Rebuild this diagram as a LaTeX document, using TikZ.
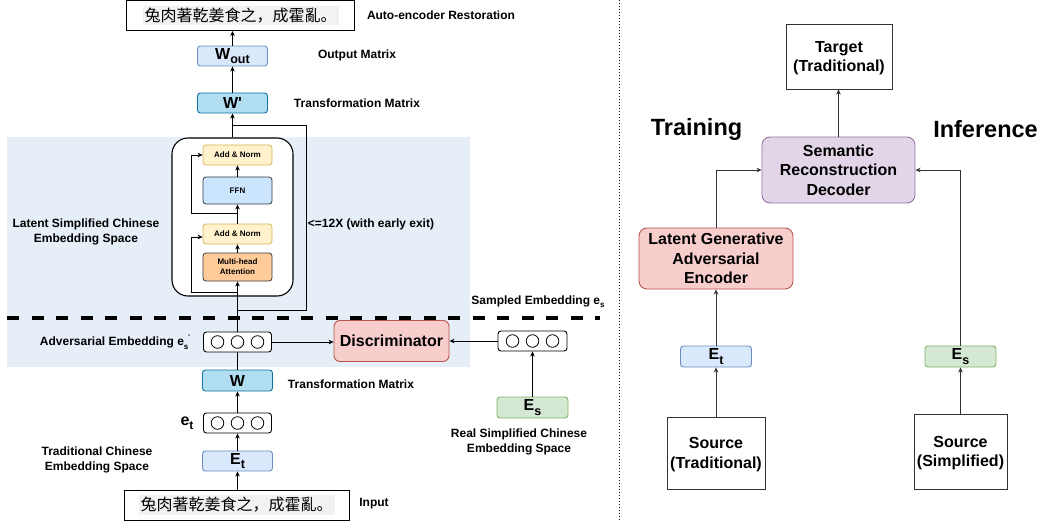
\documentclass[tikz,border=0pt]{standalone}
\usepackage{fontspec}
\setmainfont{Liberation Sans}[Ligatures=TeXOff]
\newfontfamily\cjk{Noto Sans CJK SC}
\usetikzlibrary{arrows.meta}

\definecolor{regionblue}{HTML}{E6EEF8}
\definecolor{lbluefill}{HTML}{DAE8FC}
\definecolor{lbluedraw}{HTML}{6C8EBF}
\definecolor{tealfill}{HTML}{B1DDF0}
\definecolor{tealdraw}{HTML}{10739E}
\definecolor{yelfill}{HTML}{FFF2CC}
\definecolor{yeldraw}{HTML}{D6B656}
\definecolor{ffnfill}{HTML}{CCE5FF}
\definecolor{greydraw}{HTML}{36393D}
\definecolor{orfill}{HTML}{FFCC99}
\definecolor{redfill}{HTML}{F8CECC}
\definecolor{reddraw}{HTML}{B85450}
\definecolor{grnfill}{HTML}{D5E8D4}
\definecolor{grndraw}{HTML}{82B366}
\definecolor{purfill}{HTML}{E1D5E7}
\definecolor{purdraw}{HTML}{9673A6}
\definecolor{darkline}{HTML}{333333}

% lowered subscript in a given size
\newcommand\lowsub[2]{\raisebox{-0.28em}{\fontsize{#1}{#1}\selectfont #2}}

\tikzset{
  sz/.style 2 args={minimum width=#1pt, minimum height=#2pt},
  box/.style={draw, rounded corners=3pt, inner sep=0pt, line width=0.9pt,
    font=\fontsize{16}{19}\selectfont\bfseries, align=center},
  smallbox/.style={draw, rounded corners=3pt, inner sep=0pt, line width=0.8pt,
    font=\fontsize{8}{10}\selectfont\bfseries, align=center},
  plainbox/.style={draw=darkline, line width=1pt, inner sep=0pt,
    font=\fontsize{16}{19.5}\selectfont\bfseries, align=center},
  bigbox/.style={draw, rounded corners=8pt, inner sep=0pt, line width=0.9pt,
    font=\fontsize{16}{19.5}\selectfont\bfseries, align=center},
  lbl/.style={inner sep=0pt, align=center, font=\fontsize{12}{14.5}\selectfont\bfseries},
  embbox/.style={draw, rounded corners=3pt, line width=0.9pt, inner sep=0pt, fill=white},
  arr/.style={-{Stealth[length=5pt,width=4.5pt,inset=1.5pt]}, line width=0.8pt},
  ln/.style={line width=0.8pt},
}

\begin{document}
\begin{tikzpicture}[x=1pt,y=-1pt]
\useasboundingbox (0,0) rectangle (1043,522);
\fill[white] (0,0) rectangle (1043,522);

% latent space backdrop
\fill[regionblue] (7,137) rectangle (470,367);

% ---------- left: encoder / decoder column ----------
\node[draw, line width=0.9pt, sz={228}{30}, inner sep=0pt] (topbox) at (240.5,15.5)
  {\setlength\fboxsep{2pt}\colorbox{black!5}{\cjk\fontsize{16}{16}\selectfont 兔肉著乾姜食之，成霍亂。}};
\node[box, fill=lbluefill, draw=lbluedraw, sz={70}{20}] (Wout) at (232.5,56) {W\lowsub{12.5}{out}};
\node[box, fill=tealfill, draw=tealdraw, sz={70}{20}] (Wp) at (232.5,103) {W'};

\node[draw, line width=1.1pt, rounded corners=16pt, fill=white, sz={121}{158}] (tf) at (232.5,217) {};
\node[smallbox, fill=yelfill, draw=yeldraw, sz={69}{20}] (ant) at (237.5,155) {Add \& Norm};
\node[smallbox, fill=ffnfill, draw=greydraw, sz={69}{27}] (ffn) at (237.5,190.5) {FFN};
\node[smallbox, fill=yelfill, draw=yeldraw, sz={69}{20}] (anb) at (237.5,234) {Add \& Norm};
\node[smallbox, fill=orfill, draw=greydraw, sz={69}{28}] (mha) at (237.5,267) {Multi-head\\Attention};

\node[embbox, sz={68}{20}] (adv) at (237.5,342) {};
\node[box, fill=tealfill, draw=tealdraw, sz={70}{21}] (Wb) at (237.5,380.5) {W};
\node[embbox, sz={68}{20}] (et) at (237.5,423) {};
\node[box, fill=lbluefill, draw=lbluedraw, sz={70}{20}] (Et) at (237.5,461) {E\lowsub{12.5}{t}};
\node[draw, line width=0.9pt, sz={225}{30}, inner sep=0pt] (input) at (236.5,505)
  {\setlength\fboxsep{2pt}\colorbox{black!5}{\cjk\fontsize{16}{16}\selectfont 兔肉著乾姜食之，成霍亂。}};

\node[bigbox, rounded corners=6pt, fill=redfill, draw=reddraw, sz={115}{41}] (disc) at (391.5,341) {Discriminator};
\node[embbox, sz={69}{20}] (semb) at (532.5,341) {};
\node[box, fill=grnfill, draw=grndraw, sz={71}{21}] (Es) at (532.5,407.5) {E\lowsub{12.5}{s}};

% circles of the embedding vectors
\foreach \n in {adv,et,semb}
  \foreach \dx in {-20,0,20}
    \draw[line width=0.8pt] (\n.center) ++(\dx,0) circle[radius=6.3pt];

% training / sampling split
\draw[line width=4pt, dash pattern=on 12.3pt off 12.2pt] (7,318) -- (600,318);

% labels
\node[lbl] (lAE) at (441,15) {Auto-encoder Restoration};
\node[lbl] (lOut) at (357,55) {Output Matrix};
\node[lbl] (lTr1) at (357,103) {Transformation Matrix};
\node[lbl] (lRep) at (371,224) {<=12X (with early exit)};
\node[lbl] (lLat) at (86,232) {Latent Simplified Chinese\\Embedding Space};
\node[lbl] (lSmp) at (538,302) {Sampled Embedding e\lowsub{8}{s}};
\node[lbl] (lAdv) at (115,342) {Adversarial Embedding e\lowsub{8}{s}\raisebox{0.5em}{\fontsize{7}{7}\selectfont '}};
\node[lbl] (lTr2) at (351,384) {Transformation Matrix};
\node[inner sep=0pt, font=\fontsize{16}{16}\selectfont\bfseries] (lEt) at (187,423) {e\lowsub{12}{t}};
\node[lbl] (lTrad) at (97,460) {Traditional Chinese\\Embedding Space};
\node[lbl] (lReal) at (519,442) {Real Simplified Chinese\\Embedding Space};
\node[lbl] (lIn) at (374,504) {Input};

% connectors of the left column
\draw[arr] (input.north -| Et) -- (Et.south);
\draw[arr] (Et.north) -- (et.south);
\draw[arr] (et.north) -- (Wb.south);
\draw[ln] (Wb.north) -- (adv.south);
\draw[arr] (adv.north) -- (mha.south);
\draw[arr] (mha.north) -- (anb.south);
\draw[arr] (anb.north) -- (ffn.south);
\draw[arr] (ffn.north) -- (ant.south);
\draw[arr] (tf.north) -- (Wp.south);
\draw[arr] (Wp.north) -- (Wout.south);
\draw[arr] (Wout.north) -- (Wout.north |- topbox.south);

% residual bypasses
\coordinate (b1) at (237.5,292);
\coordinate (b1l) at (191,292);
\coordinate (b1t) at (191,237);
\draw[arr] (b1) -- (b1l) -- (b1t) -- (b1t -| anb.west);
\coordinate (b2) at (237.5,213);
\coordinate (b2l) at (191,213);
\coordinate (b2t) at (191,155);
\draw[arr] (b2) -- (b2l) -- (b2t) -- (ant.west);

% layer repetition loop
\coordinate (lpTop) at (232.5,125);
\coordinate (lpR) at (306,125);
\coordinate (lpRB) at (306,310);
\coordinate (lpBot) at (237.5,310);
\draw[ln] (lpTop) -- (lpR) -- (lpRB) -- (lpBot);

% discriminator inputs
\draw[arr] (adv.east) -- (adv.east -| disc.west);
\draw[arr] (semb.west) -- (semb.west -| disc.east);
\draw[arr] (Es.north) -- (semb.south);

% separator
\draw[line width=1pt, dash pattern=on 1pt off 2pt] (619,0) -- (619,522);

% ---------- right: training / inference overview ----------
\node[plainbox, sz={106}{65}] (target) at (839,56.5) {\rule{0pt}{14pt}Target\\(Traditional)};
\node[bigbox, fill=purfill, draw=purdraw, sz={153}{66}] (dec) at (838.5,170) {Semantic\\Reconstruction\\Decoder};
\node[bigbox, fill=redfill, draw=reddraw, sz={154}{61}] (lgae) at (716,258.5) {Latent Generative\\Adversarial\\Encoder};
\node[box, fill=lbluefill, draw=lbluedraw, sz={71}{21}] (Et2) at (716,356.5) {E\lowsub{12.5}{t}};
\node[plainbox, sz={98}{72}] (srcT) at (716,453) {\rule{0pt}{14pt}Source\\(Traditional)};
\node[box, fill=grnfill, draw=grndraw, sz={71}{21}] (Es2) at (960.5,356.5) {E\lowsub{12.5}{s}};
\node[plainbox, sz={93}{75}] (srcS) at (960.5,451.5) {\rule{0pt}{14pt}Source\\(Simplified)};

\node[inner sep=0pt, font=\fontsize{23.5}{23.5}\selectfont\bfseries] (lTrain) at (696.5,129) {Training};
\node[inner sep=0pt, font=\fontsize{23.5}{23.5}\selectfont\bfseries] (lInf) at (985.5,129) {Inference};

\begin{scope}[darkline]
\draw[arr] (dec.north) -- (dec.north |- target.south);
\draw[arr] (lgae.north) |- (dec.west);
\draw[arr] (Es2.north) |- (dec.east);
\draw[arr] (Et2.north) -- (lgae.south);
\draw[arr] (srcT.north) -- (Et2.south);
\draw[arr] (srcS.north) -- (Es2.south);
\end{scope}
\end{tikzpicture}
\end{document}
